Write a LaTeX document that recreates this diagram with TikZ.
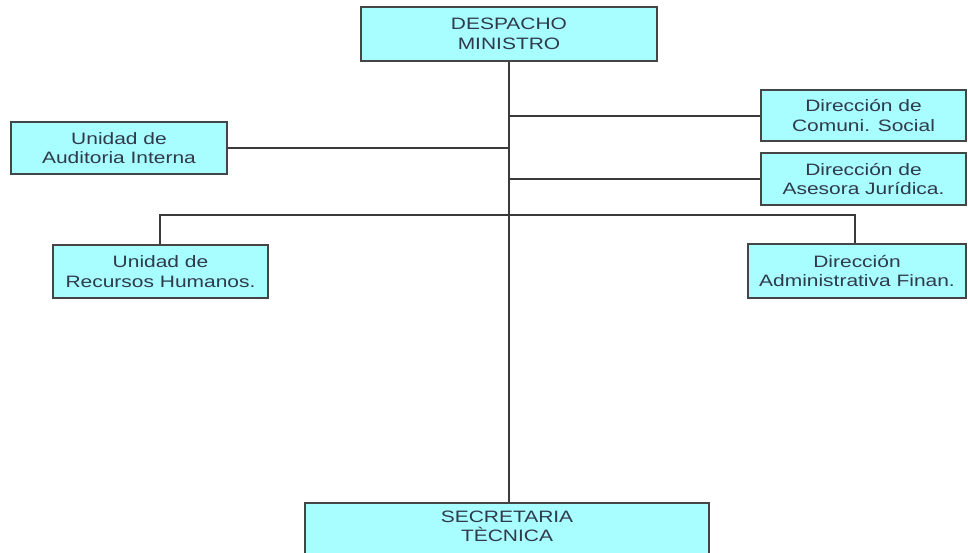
\documentclass[tikz,border=0pt]{standalone}
\usepackage{fontspec}
\setmainfont{Liberation Sans}
\newfontfamily\boxfont[FakeStretch=1.27]{Liberation Sans}
\definecolor{boxfill}{HTML}{A8FDFF}
\definecolor{boxedge}{HTML}{454545}
\definecolor{txt}{HTML}{2F3A4A}
\definecolor{wire}{HTML}{3A3A3A}
\begin{document}
\begin{tikzpicture}[x=1pt,y=-1pt,
  orgbox/.style={draw=boxedge,fill=boxfill,line width=1.6pt,inner sep=0pt,
    align=center,text=txt,font=\boxfont\fontsize{16.5}{19.5}\selectfont,anchor=center},
  wireline/.style={draw=wire,line width=2.4pt}]
\useasboundingbox (0,0) rectangle (968,553);
\clip (0,0) rectangle (968,553);
\node[orgbox,minimum width=296pt,minimum height=54pt] (desp) at (509,34) {DESPACHO\\MINISTRO};
\node[orgbox,minimum width=216pt,minimum height=52pt] (aud) at (119,148) {Unidad de\\Auditoria Interna};
\node[orgbox,minimum width=205pt,minimum height=51pt] (com) at (863.5,115.5) {Dirección de\\Comuni. Social};
\node[orgbox,minimum width=205pt,minimum height=52pt] (ase) at (863.5,179) {Dirección de\\Asesora Jurídica.};
\node[orgbox,minimum width=215pt,minimum height=53pt] (rrhh) at (160.5,271.5) {Unidad de\\Recursos Humanos.};
\node[orgbox,minimum width=218pt,minimum height=54pt] (adm) at (857,271) {Dirección\\Administrativa Finan.};
\node[orgbox,minimum width=404pt,minimum height=60pt] (sec) at (507,533) {SECRETARIA\\TÈCNICA\\[-6pt]};
\coordinate (t1) at (509,116);
\coordinate (t2) at (509,148);
\coordinate (t3) at (509,179);
\coordinate (hl) at (160,215);
\coordinate (hr) at (855,215);
\draw[wireline] (desp.south -| t1) -- (sec.north -| t1);
\draw[wireline] (t1) -- (com.west |- t1);
\draw[wireline] (aud.east |- t2) -- (t2);
\draw[wireline] (t3) -- (ase.west |- t3);
\draw[wireline] (rrhh.north -| hl) -- (hl) -- (hr) -- (adm.north -| hr);
\end{tikzpicture}
\end{document}
